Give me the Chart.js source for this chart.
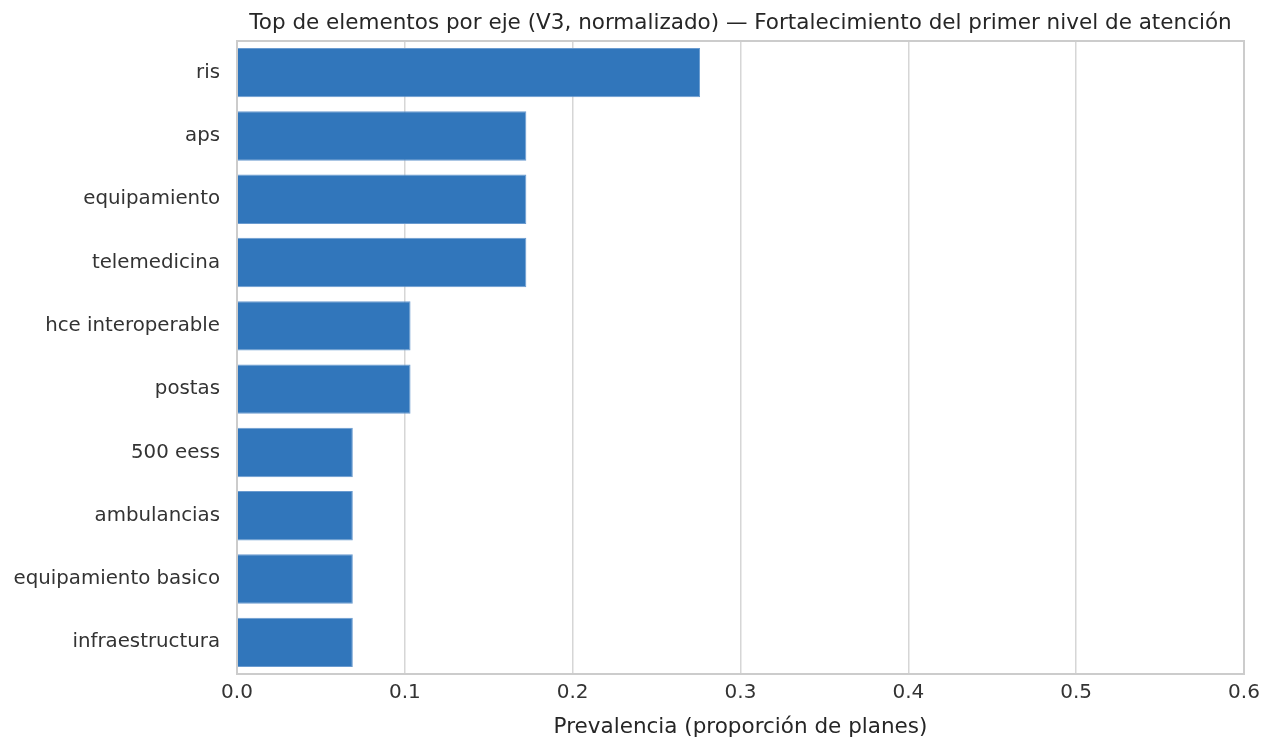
<!DOCTYPE html>
<html>
<head>
<meta charset="utf-8">
<script src="https://cdn.jsdelivr.net/npm/chart.js@4"></script>
<style>
  body { margin: 0; background: #fff; }
  #wrap { width: 1263px; height: 740px; }
</style>
</head>
<body>
<div id="wrap"><canvas id="chart" width="1263" height="740"></canvas></div>
<script>
const categories = ['ris', 'aps', 'equipamiento', 'telemedicina', 'hce interoperable', 'postas',
    '500 eess', 'ambulancias', 'equipamiento basico', 'infraestructura'];
const prevalence = [0.2759, 0.1724, 0.1724, 0.1724, 0.1034, 0.1034, 0.069, 0.069, 0.069, 0.069];
const xTicks = [0, 0.1, 0.2, 0.3, 0.4, 0.5, 0.6];

const titleText = 'Top de elementos por eje (V3, normalizado) \u2014 Fortalecimiento del primer nivel de atención';
const fontFamily = '"DejaVu Sans", sans-serif';

// title centred over the plot area + frame around it
const framePlugin = {
    id: 'frame',
    afterDraw(chart) {
        const { ctx, chartArea } = chart;
        ctx.save();
        ctx.strokeStyle = '#cccccc';
        ctx.lineWidth = 2;
        ctx.strokeRect(chartArea.left, chartArea.top, chartArea.right - chartArea.left, chartArea.bottom - chartArea.top);
        ctx.fillStyle = '#262626';
        ctx.font = '21.5px ' + fontFamily;
        ctx.textAlign = 'center';
        ctx.textBaseline = 'middle';
        ctx.fillText(titleText, (chartArea.left + chartArea.right) / 2, 23);
        ctx.restore();
    }
};

new Chart(document.getElementById('chart'), {
    type: 'bar',
    data: {
        labels: categories,
        datasets: [{
            data: prevalence,
            backgroundColor: '#3176bb',
            borderColor: '#6a9bd0',
            borderWidth: 1,
            categoryPercentage: 1,
            barPercentage: 0.78
        }]
    },
    options: {
        indexAxis: 'y',
        responsive: false,
        animation: false,
        layout: { padding: { top: 41, right: 19, left: 0, bottom: 0 } },
        plugins: {
            legend: { display: false },
            tooltip: { enabled: false }
        },
        scales: {
            x: {
                min: 0,
                max: 0.6,
                afterBuildTicks: axis => { axis.ticks = xTicks.map(v => ({ value: v })); },
                afterFit: axis => { axis.height = 66; axis.paddingRight = 0; axis.paddingLeft = 0; },
                grid: { color: '#d6d6d6', lineWidth: 1.5, drawTicks: false },
                border: { display: false },
                ticks: {
                    padding: 7,
                    color: '#333333',
                    font: { family: fontFamily, size: 20 },
                    callback: v => Number(v).toFixed(1)
                },
                title: {
                    display: true,
                    text: 'Prevalencia (proporción de planes)',
                    color: '#262626',
                    font: { family: fontFamily, size: 21.5 },
                    padding: { top: 0, bottom: 0 }
                }
            },
            y: {
                afterFit: axis => { axis.width = 237; },
                grid: { display: false, drawTicks: false },
                border: { display: false },
                ticks: {
                    padding: 17,
                    color: '#333333',
                    font: { family: fontFamily, size: 19.8 }
                }
            }
        }
    },
    plugins: [framePlugin]
});
</script>
</body>
</html>
